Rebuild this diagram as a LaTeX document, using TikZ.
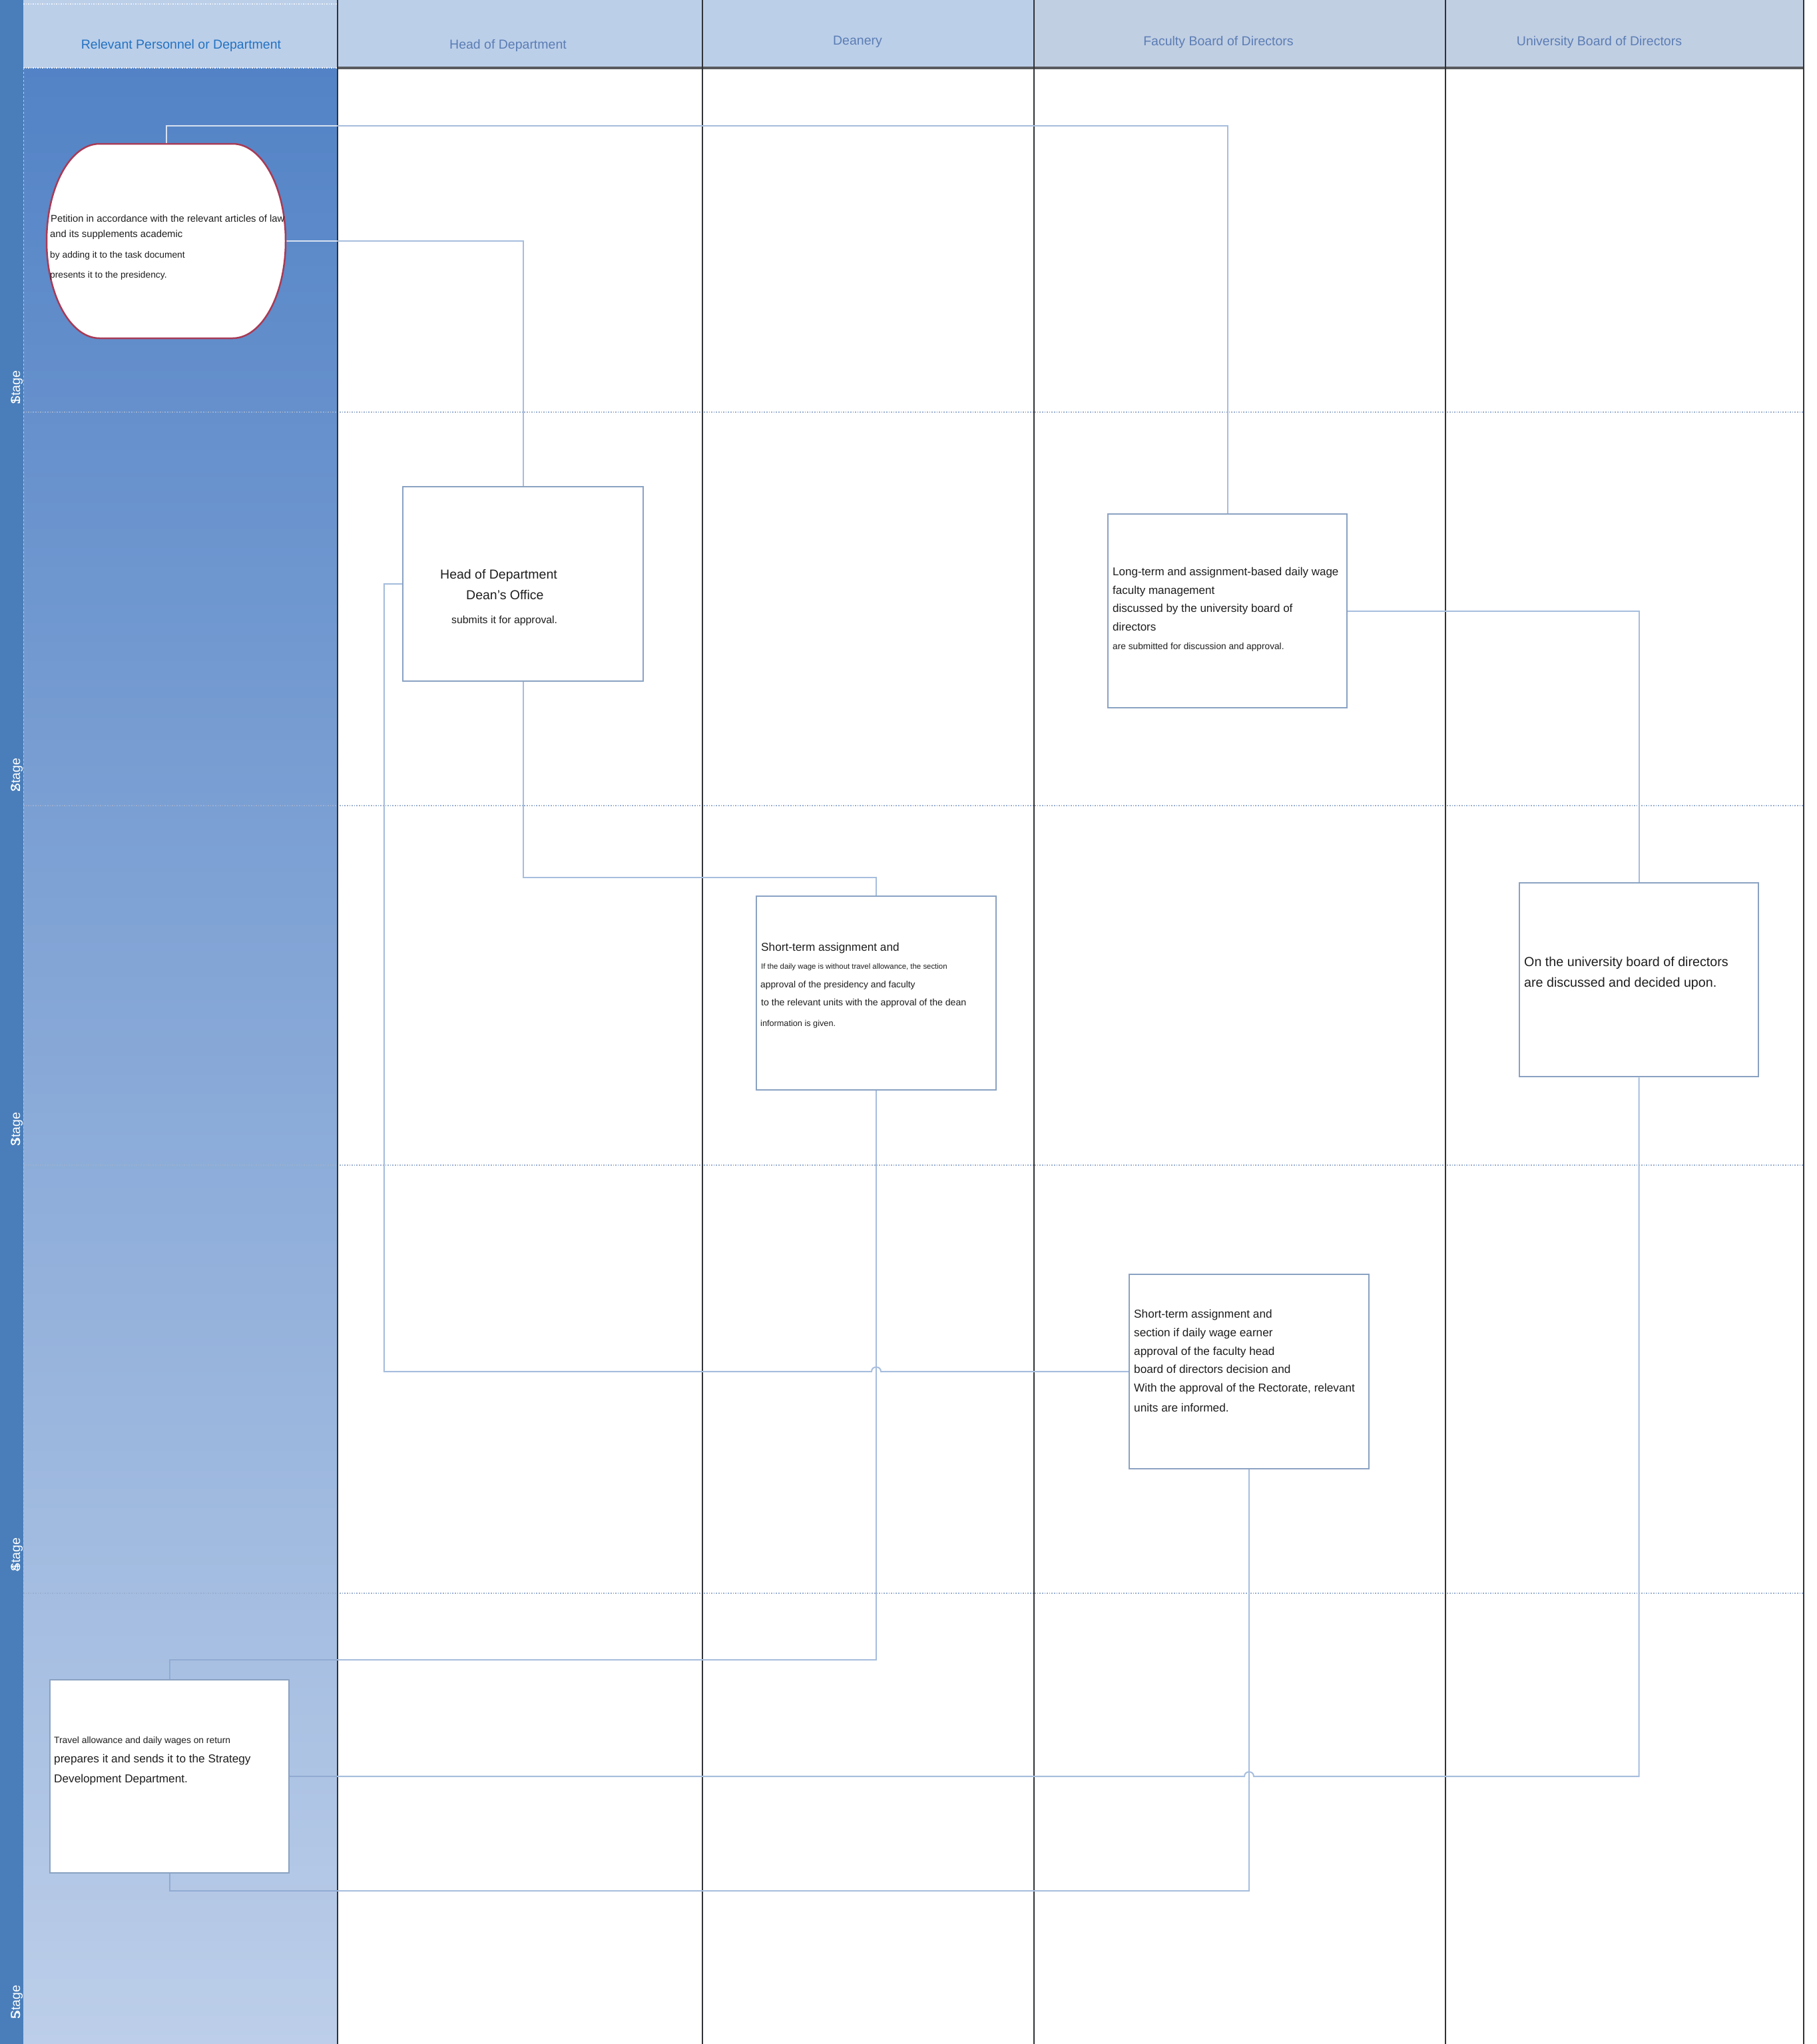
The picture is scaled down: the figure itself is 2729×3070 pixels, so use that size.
\documentclass[tikz,border=0pt]{standalone}
\usepackage{fontspec}
\setmainfont{Liberation Sans}
\definecolor{stagec}{HTML}{4A7EBA}
\definecolor{gtop}{HTML}{5383C6}
\definecolor{gbot}{HTML}{BCCEE9}
\definecolor{hdra}{HTML}{BCCFE9}
\definecolor{hdrb}{HTML}{C1CFE3}
\definecolor{hdrtxa}{HTML}{2372C2}
\definecolor{hdrtxb}{HTML}{5B7DB4}
\definecolor{divc}{HTML}{303236}
\definecolor{dotc}{HTML}{9AAFD0}
\definecolor{connc}{HTML}{A6BDDD}
\definecolor{conninc}{HTML}{90AAD2}
\definecolor{boxc}{HTML}{8AA2C2}
\definecolor{petc}{HTML}{A83A55}
\definecolor{txc}{HTML}{1E1E1E}
\begin{document}
\begin{tikzpicture}[x=1pt,y=-1pt,
  box/.style={draw=boxc,line width=2.5pt,fill=white,rectangle,inner sep=0pt},
  ghost/.style={draw=none,rectangle,inner sep=0pt},
  conn/.style={draw=connc,line width=2pt},
  tx/.style={anchor=base west,inner sep=0pt,text=txc,font=\fontsize{#1}{#1}\selectfont},
  hdr/.style={anchor=center,inner sep=0pt,font=\fontsize{19.5}{20}\selectfont},
  stagelbl/.style={rotate=90,anchor=base west,inner sep=0pt,text=white,font=\fontsize{19.5}{20}\selectfont},
  divline/.style={draw=divc,line width=2.5pt},
  rowsep/.style={draw=dotc,line width=1.6pt,dotted}]
\useasboundingbox (0,0) rectangle (2729,3070);
\fill[white] (0,0) rectangle (2729,3070);
% stage bar and first column
\fill[stagec] (0,0) rectangle (35,3070);
\shade[top color=gtop,bottom color=gbot] (35,102) rectangle (507,3070);
% headers
\fill[hdra] (35,0) rectangle (1553,102);
\fill[hdrb] (1553,0) rectangle (2709,102);
\draw[draw=divc!80,line width=4pt] (507,102) -- (2709,102);
\draw[draw=white!80!hdra,line width=1.5pt,dotted] (35,102) -- (507,102);
\draw[draw=white!70!hdra,line width=1.5pt,dotted] (35,6) -- (507,6);
\node[hdr,text=hdrtxa] (h1) at (272,68) {Relevant Personnel or Department};
\node[hdr,text=hdrtxb] (h2) at (763,68) {Head of Department};
\node[hdr,text=hdrtxb] (h3) at (1288,63) {Deanery};
\node[hdr,text=hdrtxb] (h4) at (1830,63) {Faculty Board of Directors};
\node[hdr,text=hdrtxb] (h5) at (2402,63) {University Board of Directors};
% row separators
\foreach \yy in {619,1210,1750,2393} {\draw[rowsep] (35,\yy) -- (2709,\yy);}
\draw[draw=white!60!stagec,line width=1pt,dashed] (35,102) -- (35,3070);
% column dividers
\foreach \xx in {507,1055,1553,2171,2709} {\draw[divline] (\xx,0) -- (\xx,3070);}
% stage labels
\node[stagelbl] (s1) at (30,608) {\rlap{1}Stage};
\node[stagelbl] (s2) at (30,1190) {\rlap{2}Stage};
\node[stagelbl] (s3) at (30,1722) {\rlap{3}Stage};
\node[stagelbl] (s4) at (30,2361) {\rlap{4}Stage};
\node[stagelbl] (s5) at (30,3033) {\rlap{5}Stage};
% petition anchor node
\node[ghost,minimum width=359pt,minimum height=292pt] (pet) at (249.5,362) {};
% boxes
\node[box,minimum width=361pt,minimum height=292pt] (hod) at (785.5,877) {};
\node[box,minimum width=359pt,minimum height=291pt] (long) at (1843.5,917.5) {};
\node[box,minimum width=360pt,minimum height=291pt] (dean) at (1316,1491.5) {};
\node[box,minimum width=359pt,minimum height=291pt] (uni) at (2461.5,1471.5) {};
\node[box,minimum width=360pt,minimum height=292pt] (fb) at (1876,2060) {};
\node[box,minimum width=359pt,minimum height=290pt] (trav) at (254.5,2668) {};
% connectors
\draw[conn] (pet.north) -- ++(0,-27) -| (long.north);
\draw[conn] (pet.east) -| (hod.north);
\draw[conn] (hod.south) -- ++(0,294) -| (dean.north);
\draw[conn] (hod.west) -- ++(-27,0) |- ([xshift=-7pt]dean.south |- fb.west) .. controls +(0,-9) and +(0,-9) .. ([xshift=7pt]dean.south |- fb.west) -- (fb.west);
\draw[conn] (long.east) -| (uni.north);
\draw[conn] (uni.south) |- ([xshift=7pt]fb.south |- trav.east) .. controls +(0,-9) and +(0,-9) .. ([xshift=-7pt]fb.south |- trav.east) -- (trav.east);
\draw[conn] (dean.south) -- ++(0,855) -| (trav.north);
\draw[conn] (fb.south) -- ++(0,633) -| (trav.south);
% connector parts over the blue first column, tinted to stay visible
\begin{scope}
\clip (36,1200) rectangle (506,3070);
\draw[draw=conninc,line width=2pt] (dean.south) -- ++(0,855) -| (trav.north);
\draw[draw=conninc,line width=2pt] (fb.south) -- ++(0,633) -| (trav.south);
\draw[draw=conninc,line width=2pt] (uni.south) |- (trav.east);
\end{scope}
\begin{scope}
\clip (36,102) rectangle (506,600);
\draw[draw=white!55!connc,line width=2pt] (pet.north) -- ++(0,-27) -| (long.north);
\draw[draw=white!55!connc,line width=2pt] (pet.east) -| (hod.north);
\end{scope}
% petition outline on top
\draw[draw=petc,line width=2.5pt,fill=white] (149.5,216) -- (349.5,216) arc[start angle=90,end angle=-90,x radius=79.5pt,y radius=146pt] -- (149.5,508) arc[start angle=270,end angle=90,x radius=79.5pt,y radius=146pt] -- cycle;
% texts: petition
\node[tx=14.8] (pt1) at (76,333) {Petition in accordance with the relevant articles of law};
\node[tx=14.8] (pt2) at (75,356) {and its supplements academic};
\node[tx=13.8] (pt3) at (75,387) {by adding it to the task document};
\node[tx=13.8] (pt4) at (75,417) {presents it to the presidency.};
% head of department
\node[tx=19.5] (ht1) at (661,869) {Head of Department};
\node[tx=19.5] (ht2) at (700,900) {Dean's Office};
\node[tx=15.8] (ht3) at (678,936) {submits it for approval.};
% long-term
\node[tx=17] (lt1) at (1671,864) {Long-term and assignment-based daily wage};
\node[tx=17] (lt2) at (1671,892) {faculty management};
\node[tx=17] (lt3) at (1671,919) {discussed by the university board of};
\node[tx=17] (lt4) at (1671,947) {directors};
\node[tx=13.7] (lt5) at (1671,975) {are submitted for discussion and approval.};
% deanery
\node[tx=17.2] (dt1) at (1143,1428) {Short-term assignment and};
\node[tx=11.4] (dt2) at (1143,1455) {If the daily wage is without travel allowance, the section};
\node[tx=13.8] (dt3) at (1142,1483) {approval of the presidency and faculty};
\node[tx=14.1] (dt4) at (1143,1510) {to the relevant units with the approval of the dean};
\node[tx=12.7] (dt5) at (1142,1541) {information is given.};
% university
\node[tx=19.7] (ut1) at (2289,1451) {On the university board of directors};
\node[tx=19.7] (ut2) at (2289,1482) {are discussed and decided upon.};
% faculty board
\node[tx=17.2] (ft1) at (1703,1979) {Short-term assignment and};
\node[tx=17.2] (ft2) at (1703,2007) {section if daily wage earner};
\node[tx=17.2] (ft3) at (1703,2035) {approval of the faculty head};
\node[tx=17.2] (ft4) at (1703,2062) {board of directors decision and};
\node[tx=17.2] (ft5) at (1703,2090) {With the approval of the Rectorate, relevant};
\node[tx=17.2] (ft6) at (1703,2120) {units are informed.};
% travel
\node[tx=13.8] (tt1) at (81,2618) {Travel allowance and daily wages on return};
\node[tx=17.2] (tt2) at (81,2647) {prepares it and sends it to the Strategy};
\node[tx=17.2] (tt3) at (81,2677) {Development Department.};
\end{tikzpicture}
\end{document}
